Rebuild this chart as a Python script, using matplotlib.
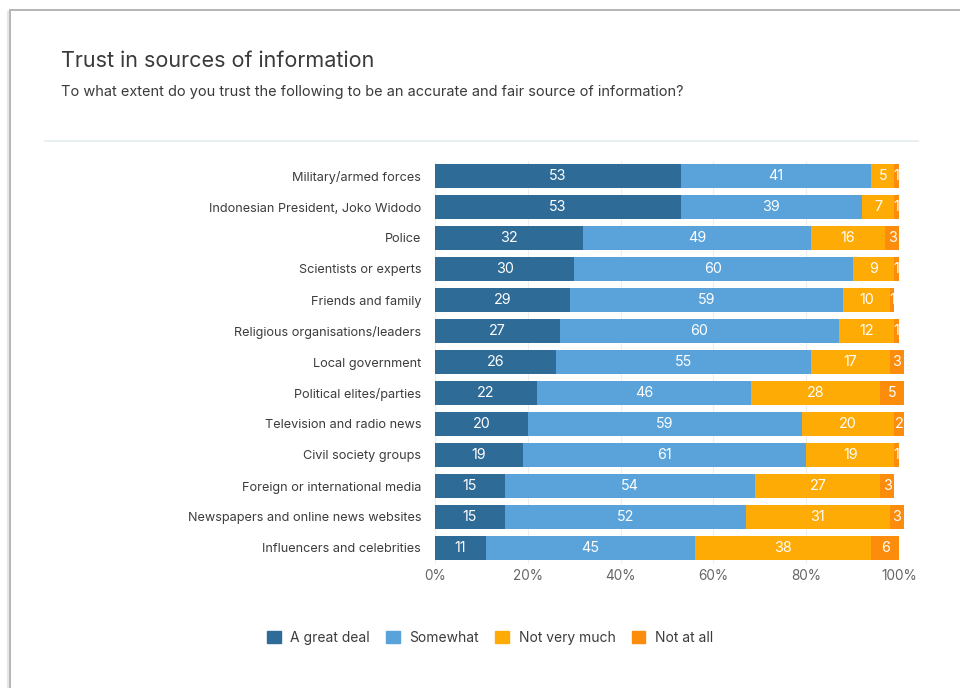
import matplotlib
matplotlib.use('Agg')
import matplotlib.pyplot as plt
import numpy as np
from matplotlib.patches import Rectangle
from matplotlib.lines import Line2D

plt.rcParams['font.family'] = ['Inter', 'DejaVu Sans']

categories = [
    'Military/armed forces',
    'Indonesian President, Joko Widodo',
    'Police',
    'Scientists or experts',
    'Friends and family',
    'Religious organisations/leaders',
    'Local government',
    'Political elites/parties',
    'Television and radio news',
    'Civil society groups',
    'Foreign or international media',
    'Newspapers and online news websites',
    'Influencers and celebrities',
]
great_deal = [53, 53, 32, 30, 29, 27, 26, 22, 20, 19, 15, 15, 11]
somewhat = [41, 39, 49, 60, 59, 60, 55, 46, 59, 61, 54, 52, 45]
not_very_much = [5, 7, 16, 9, 10, 12, 17, 28, 20, 19, 27, 31, 38]
not_at_all = [1, 1, 3, 1, 1, 1, 3, 5, 2, 1, 3, 3, 6]

series_names = ['A great deal', 'Somewhat', 'Not very much', 'Not at all']
series_colors = ['#2f6b97', '#5aa3da', '#ffab05', '#fc8c0c']
tick_values = [0, 20, 40, 60, 80, 100]

dpi = 100
fig = plt.figure(figsize=(960 / dpi, 688 / dpi), dpi=dpi)
fig.patch.set_facecolor('white')

# Screenshot-style card border along the top and left edges
fig.add_artist(Line2D([9.5 / 960, 9.5 / 960], [0, 1 - 10 / 688],
                      transform=fig.transFigure, color='#b4b4b4', lw=1.4))
fig.add_artist(Line2D([9.5 / 960, 1], [1 - 10 / 688, 1 - 10 / 688],
                      transform=fig.transFigure, color='#b4b4b4', lw=1.4))
fig.add_artist(Line2D([7.5 / 960, 7.5 / 960], [0, 1 - 12 / 688],
                      transform=fig.transFigure, color='#e6e6e6', lw=1.5))

fig.text(61 / 960, 1 - 61 / 688, 'Trust in sources of information',
         fontsize=15.5, color='#3a3a3a', va='center', ha='left')
fig.text(61 / 960, 1 - 92 / 688,
         'To what extent do you trust the following to be an accurate and fair source of information?',
         fontsize=10.45, color='#3a3a3a', va='center', ha='left')

# Separator under the header
fig.add_artist(Line2D([45 / 960, 918 / 960], [1 - 141 / 688, 1 - 141 / 688],
                      transform=fig.transFigure, color='#e4ecee', lw=1.2))

ax_left = 435 / 960
ax_width = (899 - 435) / 960
ax_bottom = 1 - 563.5 / 688
ax_top = 1 - 160.5 / 688
ax = fig.add_axes([ax_left, ax_bottom, ax_width, ax_top - ax_bottom])

y_pos = np.arange(len(categories))
data = [great_deal, somewhat, not_very_much, not_at_all]
left = np.zeros(len(categories))
for values, name, color in zip(data, series_names, series_colors):
    values = np.array(values, dtype=float)
    ax.barh(y_pos, values, left=left, height=0.8, color=color,
            label=name, zorder=2, clip_on=False)
    for i, v in enumerate(values):
        ax.text(left[i] + v / 2, y_pos[i], f'{int(v)}', color='white',
                ha='center', va='center', fontsize=10.3, zorder=3)
    left += values

ax.set_xlim(0, 100)
ax.set_ylim(len(categories) - 0.5, -0.5)
ax.set_yticks(y_pos)
ax.set_yticklabels(categories, fontsize=9.15, color='#3c3c3c')
ax.set_xticks(tick_values)
ax.set_xticklabels([f'{t}%' for t in tick_values], fontsize=9.8, color='#666666')
ax.tick_params(axis='both', length=0)
ax.tick_params(axis='y', pad=10)
ax.tick_params(axis='x', pad=4)
for spine in ax.spines.values():
    spine.set_visible(False)
ax.grid(axis='x', color='#eeeeee', lw=0.8, zorder=0)
ax.set_axisbelow(True)

# Legend with square markers
handles = [Rectangle((0, 0), 1, 1, color=c) for c in series_colors]
fig.legend(handles, series_names, loc='center', ncol=4,
           bbox_to_anchor=(490 / 960, 1 - 638 / 688), frameon=False,
           fontsize=10, handlelength=1.0, handleheight=1.0,
           handletextpad=0.7, columnspacing=1.15, labelcolor='#3c3c3c')

fig.savefig('out.png', dpi=dpi, facecolor='white')
